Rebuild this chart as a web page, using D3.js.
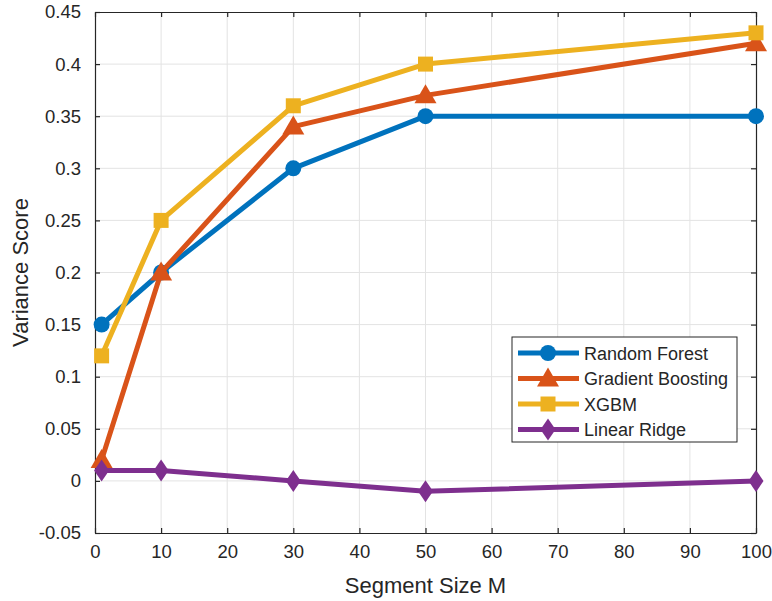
<!DOCTYPE html>
<html>
<head>
<meta charset="utf-8">
<script src="https://cdn.jsdelivr.net/npm/d3@7"></script>
<style>
  body { margin: 0; background: #fff; }
  svg text { font-family: "Liberation Sans", Arial, sans-serif; fill: #262626; }
</style>
</head>
<body>
<svg width="772" height="601"></svg>
<script>
// data
var segmentSizes = [1, 10, 30, 50, 100];
var randomForest = [0.15, 0.20, 0.30, 0.35, 0.35];
var gradientBoosting = [0.02, 0.20, 0.34, 0.37, 0.42];
var xgbm = [0.12, 0.25, 0.36, 0.40, 0.43];
var linearRidge = [0.01, 0.01, 0.00, -0.01, 0.00];

var xTicks = [0, 10, 20, 30, 40, 50, 60, 70, 80, 90, 100];
var yTicks = [-0.05, 0, 0.05, 0.1, 0.15, 0.2, 0.25, 0.3, 0.35, 0.4, 0.45];

var seriesNames = ["Random Forest", "Gradient Boosting", "XGBM", "Linear Ridge"];
var seriesValues = [randomForest, gradientBoosting, xgbm, linearRidge];
var seriesColors = ["#0072BD", "#D95319", "#EDB120", "#7E2F8E"];
var seriesMarkers = ["circle", "triangle", "square", "diamond"];

var svg = d3.select("svg"),
    width = +svg.attr("width"),
    height = +svg.attr("height");

var plotLeft = 95, plotRight = 756, plotTop = 12, plotBottom = 533;

var x = d3.scaleLinear().domain([0, 100]).range([plotLeft, plotRight]);
var y = d3.scaleLinear().domain([-0.05, 0.45]).range([plotBottom, plotTop]);

// grid
var grid = svg.append("g");
grid.selectAll("line.gx")
    .data(xTicks.slice(1, -1))
  .enter().append("line")
    .attr("x1", function(d) { return x(d); })
    .attr("x2", function(d) { return x(d); })
    .attr("y1", plotTop).attr("y2", plotBottom)
    .attr("stroke", "#e3e3e3").attr("stroke-width", 1);
grid.selectAll("line.gy")
    .data(yTicks.slice(1, -1))
  .enter().append("line")
    .attr("y1", function(d) { return y(d); })
    .attr("y2", function(d) { return y(d); })
    .attr("x1", plotLeft).attr("x2", plotRight)
    .attr("stroke", "#e3e3e3").attr("stroke-width", 1);

// axes (box with inward ticks on all sides)
var fmt = function(d) { return String(+d.toFixed(2)); };
var xAxis = svg.append("g")
    .attr("transform", "translate(0," + plotBottom + ")")
    .call(d3.axisBottom(x).tickValues(xTicks).tickSizeInner(-5).tickSizeOuter(0).tickPadding(12));
var xAxisTop = svg.append("g")
    .attr("transform", "translate(0," + plotTop + ")")
    .call(d3.axisTop(x).tickValues(xTicks).tickSizeInner(-5).tickSizeOuter(0).tickFormat(""));
var yAxis = svg.append("g")
    .attr("transform", "translate(" + plotLeft + ",0)")
    .call(d3.axisLeft(y).tickValues(yTicks).tickSizeInner(-5).tickSizeOuter(0).tickPadding(14).tickFormat(fmt));
var yAxisRight = svg.append("g")
    .attr("transform", "translate(" + plotRight + ",0)")
    .call(d3.axisRight(y).tickValues(yTicks).tickSizeInner(-5).tickSizeOuter(0).tickFormat(""));

[xAxis, xAxisTop, yAxis, yAxisRight].forEach(function(a) {
  a.attr("font-family", null).attr("font-size", null);
  a.select(".domain").attr("stroke", "#262626").attr("stroke-width", 1.2);
  a.selectAll(".tick line").attr("stroke", "#262626").attr("stroke-width", 1.2);
  a.selectAll(".tick text").attr("font-size", "18.5px").attr("fill", "#262626");
});

// markers
function markerPath(kind) {
  if (kind === "circle") return d3.symbol().type(d3.symbolCircle).size(200)();
  if (kind === "triangle") return "M0,-11L11,8L-11,8Z";
  if (kind === "square") return "M-7.5,-7.5L7.5,-7.5L7.5,7.5L-7.5,7.5Z";
  return "M0,-11L7.5,0L0,11L-7.5,0Z";
}

var line = d3.line()
    .x(function(d) { return x(d[0]); })
    .y(function(d) { return y(d[1]); });

seriesValues.forEach(function(vals, i) {
  var pts = segmentSizes.map(function(s, j) { return [s, vals[j]]; });
  var g = svg.append("g");
  g.append("path")
    .datum(pts)
    .attr("d", line)
    .attr("fill", "none")
    .attr("stroke", seriesColors[i])
    .attr("stroke-width", 5)
    .attr("stroke-linejoin", "round");
  g.selectAll("path.m")
    .data(pts)
  .enter().append("path")
    .attr("class", "m")
    .attr("transform", function(d) { return "translate(" + x(d[0]) + "," + y(d[1]) + ")"; })
    .attr("d", markerPath(seriesMarkers[i]))
    .attr("fill", seriesColors[i]);
});

// axis labels
svg.append("text")
  .attr("x", (plotLeft + plotRight) / 2)
  .attr("y", 593)
  .attr("text-anchor", "middle")
  .attr("font-size", "22px")
  .text("Segment Size M");
svg.append("text")
  .attr("transform", "translate(28," + ((plotTop + plotBottom) / 2) + ") rotate(-90)")
  .attr("text-anchor", "middle")
  .attr("font-size", "22px")
  .text("Variance Score");

// legend
var legend = svg.append("g").attr("class", "legend");
legend.append("rect")
  .attr("x", 512).attr("y", 337)
  .attr("width", 225).attr("height", 105)
  .attr("fill", "#fff")
  .attr("stroke", "#262626").attr("stroke-width", 1);
seriesNames.forEach(function(name, i) {
  var ly = 353 + i * 25.5;
  legend.append("line")
    .attr("x1", 518).attr("x2", 579)
    .attr("y1", ly).attr("y2", ly)
    .attr("stroke", seriesColors[i]).attr("stroke-width", 5);
  legend.append("path")
    .attr("transform", "translate(548," + ly + ")")
    .attr("d", markerPath(seriesMarkers[i]))
    .attr("fill", seriesColors[i]);
  legend.append("text")
    .attr("x", 584).attr("y", ly + 6.5)
    .attr("font-size", "18px")
    .attr("fill", "#000")
    .text(name);
});
</script>
</body>
</html>
